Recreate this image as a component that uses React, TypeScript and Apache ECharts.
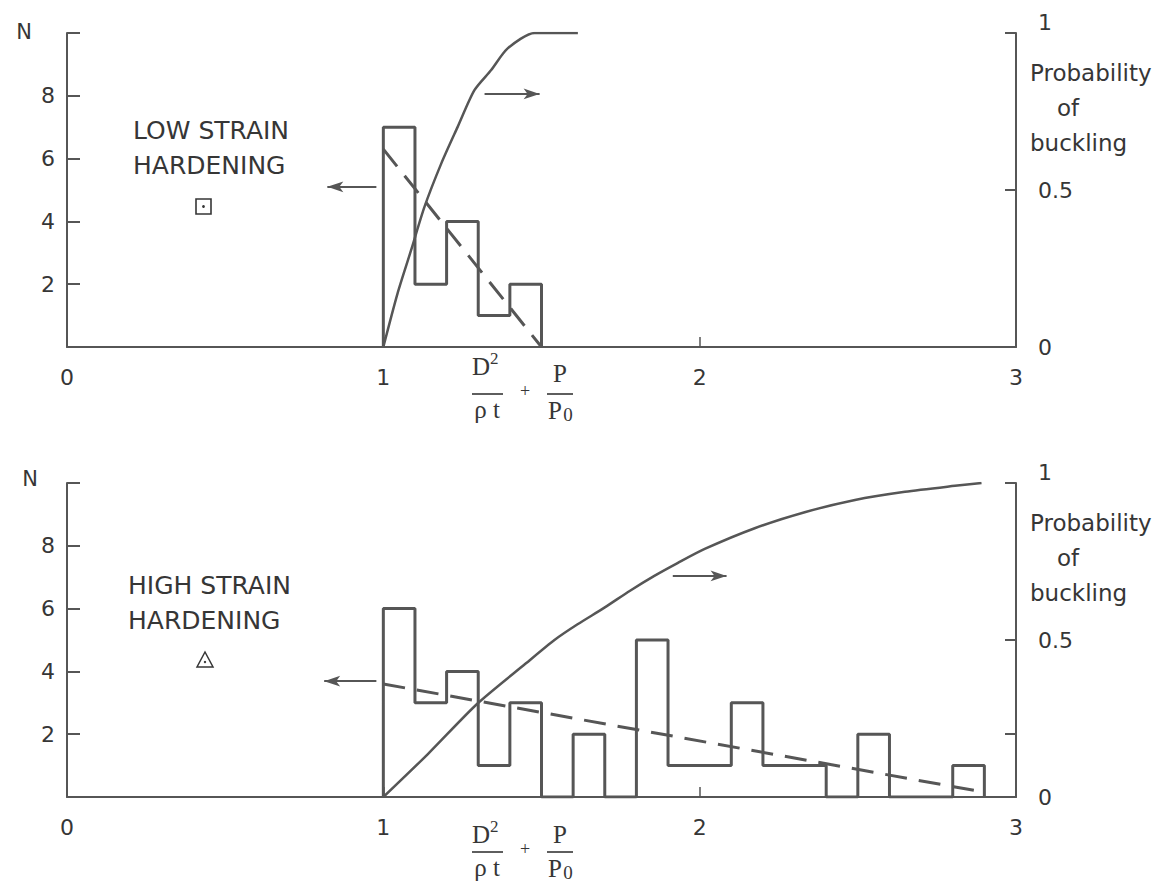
import React, { useEffect, useRef } from "react";
import * as echarts from "echarts";

// ---------- data ----------
const X_TICKS = [0, 1, 2, 3];
const BIN_WIDTH = 0.1;

// Low strain hardening
const TOP_BINS = [1.0, 1.1, 1.2, 1.3, 1.4];
const TOP_COUNTS = [7, 2, 4, 1, 2];
const TOP_TREND_X = [1.0, 1.5];
const TOP_TREND_N = [6.3, 0];
const TOP_PROB_X = [1.0, 1.045, 1.088, 1.13, 1.183, 1.235, 1.288, 1.341, 1.393, 1.478, 1.615];
const TOP_PROB_P = [0, 0.171, 0.309, 0.446, 0.584, 0.701, 0.818, 0.882, 0.951, 1.0, 1.0];

// High strain hardening
const BOT_BINS = [1.0, 1.1, 1.2, 1.3, 1.4, 1.5, 1.6, 1.7, 1.8, 1.9, 2.0, 2.1, 2.2, 2.3, 2.4, 2.5, 2.6, 2.7, 2.8];
const BOT_COUNTS = [6, 3, 4, 1, 3, 0, 2, 0, 5, 1, 1, 3, 1, 1, 0, 2, 0, 0, 1];
const BOT_TREND_X = [1.0, 2.89];
const BOT_TREND_N = [3.6, 0.17];
const BOT_PROB_X = [1.0, 1.14, 1.297, 1.45, 1.541, 1.614, 1.699, 1.78, 1.858, 1.93, 2.016, 2.174, 2.332, 2.491, 2.649, 2.807, 2.891];
const BOT_PROB_P = [0, 0.136, 0.297, 0.425, 0.5, 0.55, 0.603, 0.657, 0.705, 0.745, 0.79, 0.856, 0.907, 0.946, 0.972, 0.991, 1.0];

// arrows (annotation: [xFrom, xTo, N])
const TOP_ARROWS = [
  [0.978, 0.823, 5.1],
  [1.32, 1.494, 8.06],
];
const BOT_ARROWS = [
  [0.978, 0.813, 3.69],
  [1.915, 2.085, 7.04],
];

// ---------- style ----------
const LINE = "#565656";
const TEXT = "#363636";
const SANS = "DejaVu Sans";
const SERIF = "Liberation Serif";

function zip(xs: number[], ys: number[]) {
  return xs.map((x, i) => [x, ys[i]]);
}
function stepData(bins: number[], counts: number[]) {
  const pts: number[][] = [[bins[0], 0]];
  bins.forEach((b, i) => pts.push([b, counts[i]]));
  pts.push([bins[bins.length - 1] + BIN_WIDTH, 0]);
  return pts;
}
function arrowLines(arrows: number[][]) {
  return arrows.map(([a, b, n]) => [{ coord: [a, n] }, { coord: [b, n] }]);
}

function xAxis(gridIndex: number) {
  return {
    type: "value",
    gridIndex,
    min: X_TICKS[0],
    max: X_TICKS[X_TICKS.length - 1],
    interval: 1,
    axisLine: { show: true, lineStyle: { color: LINE, width: 2 } },
    axisTick: { show: true, inside: true, length: 10, lineStyle: { color: LINE, width: 1.5 } },
    axisLabel: { margin: 19, color: TEXT, fontSize: 22, fontFamily: SANS },
    splitLine: { show: false },
  };
}
function leftAxis(gridIndex: number, padRight: number, gap: number) {
  return {
    type: "value",
    gridIndex,
    position: "left",
    min: 0,
    max: 10,
    interval: 2,
    name: "N",
    nameLocation: "end",
    nameGap: gap,
    nameTextStyle: {
      color: TEXT,
      fontSize: 21,
      fontFamily: SANS,
      align: "right",
      verticalAlign: "middle",
      padding: [0, padRight, 0, 0],
    },
    axisLine: { show: true, lineStyle: { color: LINE, width: 2 } },
    axisTick: { show: true, inside: true, length: 13, lineStyle: { color: LINE, width: 2 } },
    axisLabel: {
      margin: 12,
      color: TEXT,
      fontSize: 22,
      fontFamily: SANS,
      formatter: (v: number) => (v === 0 || v === 10 ? "" : String(v)),
    },
    splitLine: { show: false },
  };
}
function rightAxis(gridIndex: number, tickValues?: number[]) {
  const tick: any = { show: true, inside: true, length: 11, lineStyle: { color: LINE, width: 2 } };
  if (tickValues) tick.customValues = tickValues;
  return {
    type: "value",
    gridIndex,
    position: "right",
    min: 0,
    max: 1,
    interval: 0.5,
    axisLine: { show: true, lineStyle: { color: LINE, width: 2 } },
    axisTick: tick,
    axisLabel: {
      margin: 22,
      color: TEXT,
      fontSize: 22,
      fontFamily: SANS,
      formatter: (v: number) => (v === 1 ? "{up|1}" : String(v)),
      rich: { up: { color: TEXT, fontSize: 22, fontFamily: SANS, padding: [0, 0, 22, 0] } },
    },
    splitLine: { show: false },
  };
}

function seriesFor(xi: number, yl: number, yr: number, bins: number[], counts: number[], tx: number[], tn: number[], px: number[], pp: number[], arrows: number[][]) {
  return [
    {
      type: "line",
      xAxisIndex: xi,
      yAxisIndex: yl,
      step: "end",
      symbol: "none",
      silent: true,
      data: stepData(bins, counts),
      lineStyle: { color: LINE, width: 3 },
      z: 2,
    },
    {
      type: "line",
      xAxisIndex: xi,
      yAxisIndex: yl,
      symbol: "none",
      silent: true,
      data: zip(tx, tn),
      lineStyle: { color: LINE, width: 3, type: [22, 12] },
      z: 3,
      markLine: {
        silent: true,
        symbol: ["none", "arrow"],
        symbolSize: [8, 16],
        label: { show: false },
        lineStyle: { type: "solid", width: 2, color: LINE },
        data: arrowLines(arrows),
      },
    },
    {
      type: "line",
      xAxisIndex: xi,
      yAxisIndex: yr,
      symbol: "none",
      silent: true,
      smooth: 0.25,
      data: zip(px, pp),
      lineStyle: { color: LINE, width: 2.5 },
      z: 4,
    },
  ];
}

function txt(text: string, x: number, y: number, size: number, family = SANS, align = "left", vAlign = "middle") {
  return {
    type: "text",
    x,
    y,
    silent: true,
    style: {
      text,
      fill: TEXT,
      fontSize: size,
      fontFamily: family,
      align,
      verticalAlign: vAlign,
      textAlign: align,
      textVerticalAlign: vAlign,
    },
  };
}

function formula(ox: number, barY: number, dBottom: number, pBottom: number) {
  return {
    type: "group",
    x: ox,
    y: barY,
    children: [
      txt("D", 0, -dBottom, 25, SERIF, "left", "bottom"),
      txt("2", 18, -dBottom - 12, 17, SERIF, "left", "bottom"),
      { type: "line", shape: { x1: 0, y1: 0, x2: 31, y2: 0 }, style: { stroke: TEXT, lineWidth: 1.6 } },
      txt("\u03C1 t", 15, 3, 25, SERIF, "center", "top"),
      txt("+", 53, -3, 18, SERIF, "center", "middle"),
      txt("P", 88, -pBottom, 25, SERIF, "center", "bottom"),
      { type: "line", shape: { x1: 75, y1: 0, x2: 101, y2: 0 }, style: { stroke: TEXT, lineWidth: 1.6 } },
      txt("P", 83, 4, 25, SERIF, "center", "top"),
      txt("0", 96, 11, 19, SERIF, "center", "top"),
    ],
  };
}

function rightTitle(y0: number) {
  return [
    txt("Probability", 1030, y0, 23),
    txt("of", 1057, y0 + 35, 23),
    txt("buckling", 1030, y0 + 70, 23),
  ];
}

export default function App() {
  const ref = useRef<HTMLDivElement>(null);
  useEffect(() => {
    if (!ref.current) return;
    const chart = echarts.init(ref.current, undefined, { renderer: "svg" });
    const option: any = {
      animation: false,
      backgroundColor: "#ffffff",
      grid: [
        { left: 67, top: 33, width: 949, height: 314 },
        { left: 67, top: 483, width: 949, height: 314 },
      ],
      xAxis: [xAxis(0), xAxis(1)],
      yAxis: [leftAxis(0, 35, 1), rightAxis(0), leftAxis(1, 29, 4), rightAxis(1, [0, 0.2, 0.5, 1])],
      series: [
        ...seriesFor(0, 0, 1, TOP_BINS, TOP_COUNTS, TOP_TREND_X, TOP_TREND_N, TOP_PROB_X, TOP_PROB_P, TOP_ARROWS),
        ...seriesFor(1, 2, 3, BOT_BINS, BOT_COUNTS, BOT_TREND_X, BOT_TREND_N, BOT_PROB_X, BOT_PROB_P, BOT_ARROWS),
      ],
      graphic: [
        txt("LOW STRAIN", 133, 130, 25),
        txt("HARDENING", 133, 165, 25),
        txt("HIGH STRAIN", 128, 585, 25),
        txt("HARDENING", 128, 620, 25),
        ...rightTitle(73),
        ...rightTitle(523),
        {
          type: "rect",
          silent: true,
          shape: { x: 196, y: 199, width: 15, height: 15 },
          style: { fill: "none", stroke: TEXT, lineWidth: 1.6 },
        },
        { type: "circle", silent: true, shape: { cx: 203.5, cy: 206.5, r: 1.4 }, style: { fill: TEXT } },
        {
          type: "polygon",
          silent: true,
          shape: { points: [[197, 667], [213, 667], [205, 652]] },
          style: { fill: "none", stroke: TEXT, lineWidth: 1.5 },
        },
        { type: "circle", silent: true, shape: { cx: 205, cy: 662, r: 1.2 }, style: { fill: TEXT } },
        formula(472, 394, 15, 8),
        formula(472, 852, 5, 5),
      ],
    };
    chart.setOption(option);
    return () => chart.dispose();
  }, []);
  return (
    <div
      ref={ref}
      style={{ position: "fixed", left: 0, top: 0, width: 1163, height: 883, background: "#fff" }}
    />
  );
}
